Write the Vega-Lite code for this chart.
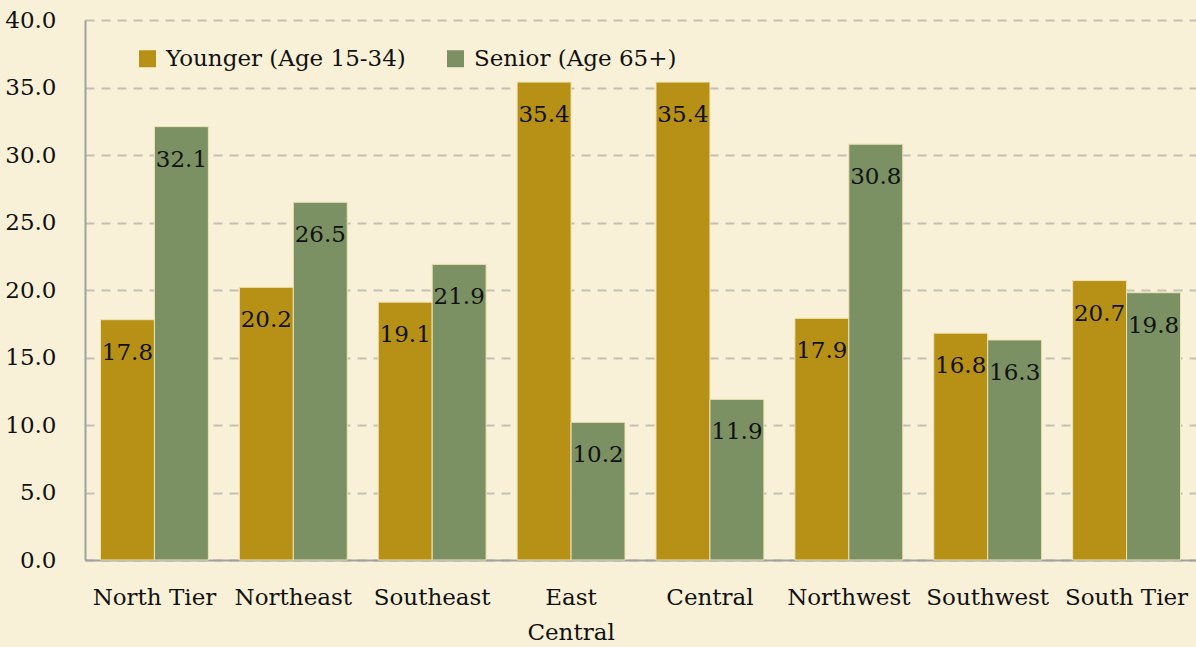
{
  "$schema": "https://vega.github.io/schema/vega-lite/v6.json",
  "width": 1111,
  "height": 540,
  "autosize": {"type": "none"},
  "padding": {"left": 85, "top": 20, "right": 0, "bottom": 87},
  "background": "#F9F1D7",
  "config": {
    "view": {"stroke": null},
    "font": "DejaVu Serif",
    "axis": {"labelFont": "DejaVu Serif", "labelColor": "#111111"},
    "legend": {"labelFont": "DejaVu Serif", "labelColor": "#111111"}
  },
  "data": {
    "values": [
      {"region": "North Tier", "group": "Younger (Age 15-34)", "value": 17.8},
      {"region": "North Tier", "group": "Senior (Age 65+)", "value": 32.1},
      {"region": "Northeast", "group": "Younger (Age 15-34)", "value": 20.2},
      {"region": "Northeast", "group": "Senior (Age 65+)", "value": 26.5},
      {"region": "Southeast", "group": "Younger (Age 15-34)", "value": 19.1},
      {"region": "Southeast", "group": "Senior (Age 65+)", "value": 21.9},
      {"region": "East Central", "group": "Younger (Age 15-34)", "value": 35.4},
      {"region": "East Central", "group": "Senior (Age 65+)", "value": 10.2},
      {"region": "Central", "group": "Younger (Age 15-34)", "value": 35.4},
      {"region": "Central", "group": "Senior (Age 65+)", "value": 11.9},
      {"region": "Northwest", "group": "Younger (Age 15-34)", "value": 17.9},
      {"region": "Northwest", "group": "Senior (Age 65+)", "value": 30.8},
      {"region": "Southwest", "group": "Younger (Age 15-34)", "value": 16.8},
      {"region": "Southwest", "group": "Senior (Age 65+)", "value": 16.3},
      {"region": "South Tier", "group": "Younger (Age 15-34)", "value": 20.7},
      {"region": "South Tier", "group": "Senior (Age 65+)", "value": 19.8}
    ]
  },
  "encoding": {
    "x": {
      "field": "region",
      "type": "nominal",
      "sort": ["North Tier", "Northeast", "Southeast", "East Central", "Central", "Northwest", "Southwest", "South Tier"],
      "scale": {"paddingInner": 0.223, "paddingOuter": 0.1115},
      "axis": {
        "title": null,
        "labelAngle": 0,
        "labelFontSize": 23,
        "labelPadding": 26,
        "labelLimit": 200,
        "labelLineHeight": 35,
        "ticks": false,
        "domain": true,
        "domainColor": "#A0A0A0",
        "domainWidth": 2,
        "labelExpr": "datum.value == 'East Central' ? ['East', 'Central'] : datum.value"
      }
    },
    "xOffset": {
      "field": "group",
      "type": "nominal",
      "scale": {"domain": ["Younger (Age 15-34)", "Senior (Age 65+)"]}
    },
    "y": {
      "field": "value",
      "type": "quantitative",
      "scale": {"domain": [0, 40]},
      "axis": {
        "title": null,
        "values": [0, 5, 10, 15, 20, 25, 30, 35, 40],
        "format": ".1f",
        "labelFontSize": 23,
        "labelPadding": 29,
        "ticks": false,
        "domain": true,
        "domainColor": "#A0A0A0",
        "domainWidth": 2,
        "grid": true,
        "gridColor": "#C4C0B8",
        "gridWidth": 2,
        "gridDash": [9, 7]
      }
    }
  },
  "layer": [
    {
      "mark": {"type": "bar", "stroke": "#EFE3B4", "strokeWidth": 1},
      "encoding": {
        "color": {
          "field": "group",
          "type": "nominal",
          "scale": {
            "domain": ["Younger (Age 15-34)", "Senior (Age 65+)"],
            "range": ["#B79116", "#7B9163"]
          },
          "legend": {
            "title": null,
            "orient": "none",
            "legendX": 51,
            "legendY": 27,
            "direction": "horizontal",
            "symbolType": "square",
            "symbolSize": 289,
            "symbolStrokeWidth": 0,
            "labelFontSize": 23,
            "labelOffset": 7,
            "labelLimit": 400,
            "columnPadding": 38
          }
        }
      }
    },
    {
      "mark": {"type": "text", "baseline": "middle", "dy": 33, "fontSize": 23, "color": "#111111"},
      "encoding": {
        "text": {"field": "value", "type": "quantitative", "format": ".1f"}
      }
    }
  ]
}
